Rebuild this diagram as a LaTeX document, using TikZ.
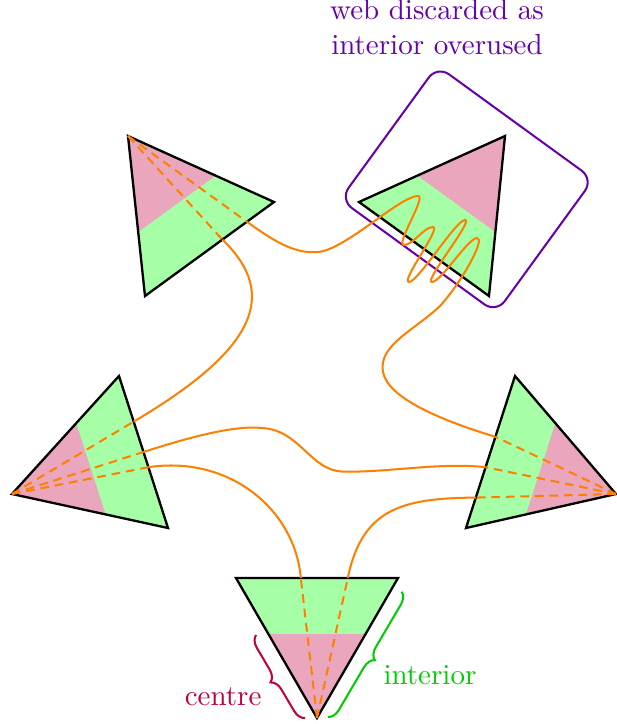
\documentclass[tikz,border=0pt]{standalone}
\usetikzlibrary{calc,decorations.pathreplacing}
\definecolor{webcol}{RGB}{102,0,170}
\begin{document}
\begin{tikzpicture}[x=0.345pt,y=-0.345pt,
  greenpart/.style={fill=green!35},
  pinkpart/.style={fill=purple!35},
  outline/.style={draw=black, line width=0.8pt},
  dashweb/.style={draw=orange, line width=0.7pt, dash pattern=on 3pt off 2pt},
  webcurve/.style={draw=orange, line width=0.7pt},
  discard/.style={draw=webcol, line width=0.7pt, rounded corners=5pt},
  bracecentre/.style={draw=purple, line width=0.7pt, decorate, decoration={brace, amplitude=4pt}},
  braceinterior/.style={draw=green!80!black, line width=0.7pt, decorate, decoration={brace, amplitude=4pt}},
  lbl/.style={inner sep=0pt}
]
\useasboundingbox (0,0) rectangle (617,724);

% triangle corners (apex first)
\coordinate (a1) at (128,136); \coordinate (a2) at (274,202); \coordinate (a3) at (145,296);
\coordinate (b1) at (505,136); \coordinate (b2) at (359,202); \coordinate (b3) at (489,296);
\coordinate (c1) at (12,494);  \coordinate (c2) at (119,376); \coordinate (c3) at (168,528);
\coordinate (d1) at (616,494); \coordinate (d2) at (515,376); \coordinate (d3) at (466,528);
\coordinate (e1) at (317,718); \coordinate (e2) at (236,578); \coordinate (e3) at (398,578);

% triangles
\foreach \t in {a,b,c,d,e}{
  \fill[greenpart] (\t1) -- (\t2) -- (\t3) -- cycle;
  \fill[pinkpart] (\t1) -- ($(\t1)!0.6!(\t2)$) -- ($(\t1)!0.6!(\t3)$) -- cycle;
  \draw[outline] (\t1) -- (\t2) -- (\t3) -- cycle;
}

% discarded web box
\coordinate (wl) at (340.1,199.5);
\coordinate (wt) at (437.3,65.8);
\coordinate (wr) at (593.4,179.2);
\coordinate (wb) at (496.2,312.9);
\draw[discard] (wl) -- (wt) -- (wr) -- (wb) -- cycle;
\node[text=webcol, align=center] (weblbl) at (437,27) {web discarded as\\interior overused};

% points on the inner edges
\coordinate (ap1) at ($(a2)!0.21!(a3)$);
\coordinate (ap2) at ($(a2)!0.4!(a3)$);
\coordinate (cp1) at ($(c2)!0.3!(c3)$);
\coordinate (cp2) at ($(c2)!0.5!(c3)$);
\coordinate (cp3) at ($(c2)!0.6!(c3)$);
\coordinate (dp1) at ($(d2)!0.4!(d3)$);
\coordinate (dp2) at ($(d2)!0.6!(d3)$);
\coordinate (dp3) at ($(d2)!0.8!(d3)$);
\coordinate (ep1) at ($(e2)!0.4!(e3)$);
\coordinate (ep2) at ($(e2)!0.69!(e3)$);

% dashed parts inside triangles
\draw[dashweb] (a1) -- (ap1);
\draw[dashweb] (a1) -- (ap2);
\draw[dashweb] (c1) -- (cp1);
\draw[dashweb] (c1) -- (cp2);
\draw[dashweb] (c1) -- (cp3);
\draw[dashweb] (d1) -- (dp1);
\draw[dashweb] (d1) -- (dp2);
\draw[dashweb] (d1) -- (dp3);
\draw[dashweb] (e1) -- (ep1);
\draw[dashweb] (e1) -- (ep2);

% solid web curves
\draw[webcurve] (ap1) .. controls (275,242) and (295,254) .. (318,252)
  .. controls (345,250) and (400,196) .. (418,196)
  .. controls (427,196) and (395,245) .. (404,245)
  .. controls (413,245) and (424,227) .. (433,227)
  .. controls (442,227) and (400,282) .. (409,282)
  .. controls (418,282) and (456,220) .. (465,220)
  .. controls (474,220) and (423,282) .. (432,282)
  .. controls (441,282) and (468,238) .. (477,238)
  .. controls (486,238) and (462,282) .. (440,306)
  .. controls (415,330) and (378,345) .. (383,372)
  .. controls (388,398) and (440,420) .. (dp1);
\draw[webcurve] (ap2) .. controls (280,295) and (255,350) .. (cp1);
\draw[webcurve] (cp2) .. controls (190,437) and (235,425) .. (262,428)
  .. controls (300,430) and (310,470) .. (342,471.5)
  .. controls (385,473) and (440,462) .. (dp2);
\draw[webcurve] (cp3) .. controls (230,455) and (295,510) .. (ep1);
\draw[webcurve] (dp3) .. controls (400,498) and (362,510) .. (ep2);

% braces and labels
\coordinate (cb1) at (305,718); \coordinate (cb2) at (256,635);
\coordinate (ib1) at (401.7,591.7); \coordinate (ib2) at (328,717);
\draw[bracecentre] (cb1) -- (cb2);
\draw[braceinterior] (ib1) -- (ib2);
\node[lbl, text=purple, anchor=base east] (centrelbl) at (262,705) {centre};
\node[lbl, text=green!80!black, anchor=base west] (interiorlbl) at (383,684) {interior};
\end{tikzpicture}
\end{document}
